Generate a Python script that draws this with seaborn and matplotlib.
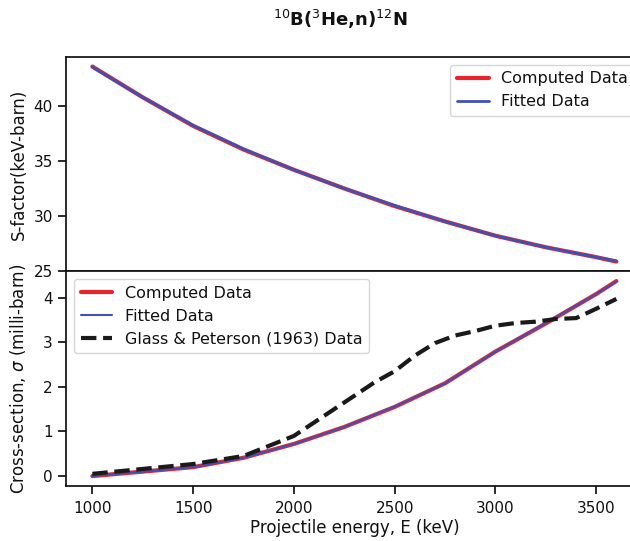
import numpy as np
import pandas as pd
import matplotlib
matplotlib.use("Agg")
import matplotlib.pyplot as plt
import seaborn as sns

# --- DATA ---
E_KEV = [1000, 1250, 1500, 1750, 2000, 2250, 2500, 2750, 3000, 3250, 3500, 3600]

S_COMPUTED = [43.6, 40.8, 38.2, 36.05, 34.2, 32.5, 30.9, 29.5, 28.2, 27.15, 26.25, 25.85]
S_FITTED = [43.55, 40.8, 38.25, 36.1, 34.2, 32.5, 30.95, 29.5, 28.2, 27.15, 26.25, 25.9]

SIGMA_COMPUTED = [0.0, 0.1, 0.2, 0.41, 0.72, 1.1, 1.55, 2.08, 2.79, 3.42, 4.08, 4.37]
SIGMA_FITTED = [0.0, 0.1, 0.2, 0.41, 0.72, 1.1, 1.56, 2.08, 2.79, 3.43, 4.08, 4.36]

E_GLASS = [1000, 1250, 1500, 1750, 2000, 2250, 2400, 2500, 2600, 2700, 2800,
           2900, 3000, 3100, 3200, 3300, 3400, 3500, 3600]
SIGMA_GLASS = [0.05, 0.16, 0.27, 0.45, 0.9, 1.65, 2.1, 2.35, 2.7, 2.98, 3.15,
               3.25, 3.37, 3.43, 3.46, 3.52, 3.54, 3.75, 3.97]

RED = '#e8232a'
BLUE = '#3f51b5'

sns.set_theme(style="ticks", context="notebook")
plt.rcParams['font.family'] = ['DejaVu Sans']
# plain black text and spines, like the original figure
for key in ['text.color', 'axes.labelcolor', 'xtick.color', 'ytick.color', 'axes.edgecolor']:
    plt.rcParams[key] = '#111111'
plt.rcParams['legend.fontsize'] = 11.5

fig, (ax1, ax2) = plt.subplots(2, 1, sharex=True, figsize=(6.3, 5.41), dpi=100)
fig.subplots_adjust(left=0.105, right=1.02, top=0.895, bottom=0.102, hspace=0)

# top panel: S-factor
sns.lineplot(x=E_KEV, y=S_COMPUTED, ax=ax1, color=RED, linewidth=3, label='Computed Data')
sns.lineplot(x=E_KEV, y=S_FITTED, ax=ax1, color=BLUE, linewidth=2, label='Fitted Data')
ax1.set_ylabel('S-factor(keV-barn)')
ax1.set_yticks([25, 30, 35, 40])
ax1.legend(loc='upper right')
ax1.tick_params(axis='x', bottom=False)

# bottom panel: cross-section
sns.lineplot(x=E_KEV, y=SIGMA_COMPUTED, ax=ax2, color=RED, linewidth=3, label='Computed Data')
sns.lineplot(x=E_KEV, y=SIGMA_FITTED, ax=ax2, color=BLUE, linewidth=1.5, label='Fitted Data')
sns.lineplot(x=E_GLASS, y=SIGMA_GLASS, ax=ax2, color='#1a1a1a', linewidth=3,
             linestyle='--', label='Glass & Peterson (1963) Data')
ax2.set_ylabel(r'Cross-section, $\sigma$ (milli-barn)')
ax2.set_xlabel('Projectile energy, E (keV)', labelpad=2)
ax2.set_yticks([0, 1, 2, 3, 4])
ax2.set_xticks([1000, 1500, 2000, 2500, 3000, 3500])
ax2.tick_params(axis='x', pad=5)
ax2.legend(loc='upper left')

fig.align_ylabels([ax1, ax2])
fig.suptitle(r'$^{10}$B($^{3}$He,n)$^{12}$N', x=0.54, y=0.985, fontsize=13, fontweight='bold')

fig.savefig('out.png', dpi=100)
plt.close(fig)
